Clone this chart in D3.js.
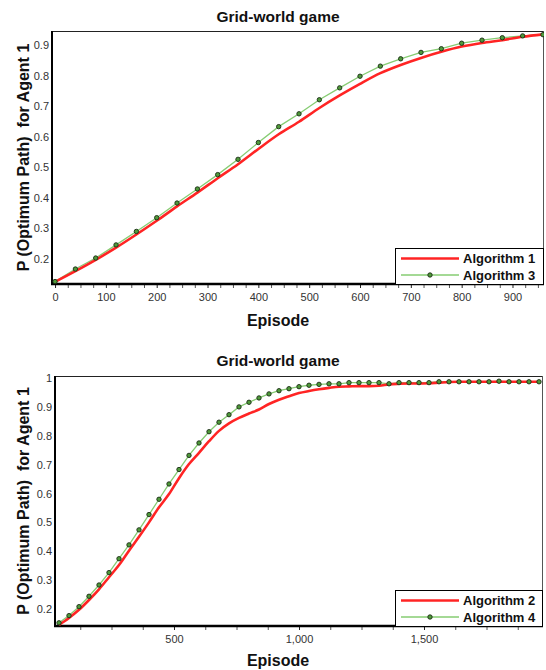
<!DOCTYPE html>
<html>
<head>
<meta charset="utf-8">
<script src="https://cdn.jsdelivr.net/npm/d3@7"></script>
<style>
  html, body { margin: 0; padding: 0; background: #fff; }
  text { font-family: "Liberation Sans", Arial, sans-serif; }
</style>
</head>
<body>
<svg id="chart" width="546" height="670"></svg>
<script>
// ---------- DATA ----------
const titleText = "Grid-world game";
const xLabel = "Episode";
const yLabel = "P (Optimum Path)  for Agent 1";

// Top chart
const topEpisodes = [0,40,80,120,160,200,240,280,320,360,400,440,480,520,560,600,640,680,720,760,800,840,880,920,960];
const algo1 = [0.125,0.160,0.197,0.237,0.280,0.325,0.372,0.417,0.464,0.510,0.560,0.608,0.649,0.694,0.735,0.773,0.808,0.835,0.858,0.878,0.895,0.907,0.916,0.927,0.935];
const algo3 = [0.126,0.167,0.203,0.246,0.290,0.335,0.383,0.429,0.476,0.526,0.581,0.633,0.675,0.721,0.760,0.798,0.831,0.855,0.876,0.888,0.906,0.916,0.924,0.930,0.934];
const topXTicks = [0,100,200,300,400,500,600,700,800,900];
const topXMinor = [25,50,75,125,150,175,225,250,275,325,350,375,425,450,475,525,550,575,625,650,675,725,750,775,825,850,875,925,950];
const topYTicks = [0.2,0.3,0.4,0.5,0.6,0.7,0.8,0.9];
const topSeriesNames = ["Algorithm 1","Algorithm 3"];

// Bottom chart
const botEpisodes = [40,80,120,160,200,240,280,320,360,400,440,480,520,560,600,640,680,720,760,800,840,880,920,960,1000,1040,1080,1120,1160,1200,1240,1280,1320,1360,1400,1440,1480,1520,1560,1600,1640,1680,1720,1760,1800,1840,1880,1920,1960];
const algo2 = [0.145,0.169,0.197,0.231,0.268,0.310,0.352,0.402,0.450,0.500,0.552,0.598,0.653,0.702,0.741,0.781,0.817,0.843,0.862,0.877,0.891,0.910,0.925,0.937,0.948,0.955,0.961,0.966,0.970,0.971,0.972,0.972,0.973,0.978,0.980,0.981,0.981,0.982,0.984,0.986,0.987,0.987,0.987,0.987,0.987,0.987,0.987,0.987,0.987];
const algo4 = [0.152,0.177,0.208,0.244,0.283,0.326,0.374,0.422,0.474,0.527,0.580,0.633,0.683,0.732,0.775,0.814,0.847,0.873,0.900,0.916,0.931,0.945,0.956,0.963,0.970,0.975,0.978,0.980,0.980,0.984,0.984,0.984,0.984,0.980,0.984,0.984,0.984,0.984,0.987,0.987,0.987,0.987,0.987,0.987,0.989,0.987,0.987,0.987,0.987];
const botXTicks = [500,1000,1500];
const botXMinor = [125,250,375,625,750,875,1125,1250,1375,1625,1750,1875];
const botYTicks = [0.2,0.3,0.4,0.5,0.6,0.7,0.8,0.9,1];
const botSeriesNames = ["Algorithm 2","Algorithm 4"];

// ---------- STYLE ----------
const RED = "#ff2424";
const GREEN_LINE = "#86cc72";
const GREEN_DOT = "#4f9a3a";

const svg = d3.select("#chart");

function drawChart(cfg) {
  const g = svg.append("g");
  const x = d3.scaleLinear().domain(cfg.xDomain).range([cfg.left, cfg.right]);
  const y = d3.scaleLinear().domain(cfg.yDomain).range([cfg.bottom, cfg.top]);

  // title
  g.append("text").attr("x", 278).attr("y", cfg.titleY)
    .attr("text-anchor", "middle").attr("font-size", 15.5).attr("font-weight", "bold")
    .attr("fill", "#111").text(titleText);

  // clip
  const clipId = "clip" + cfg.id;
  svg.append("clipPath").attr("id", clipId).append("rect")
    .attr("x", cfg.left).attr("y", cfg.top)
    .attr("width", cfg.right - cfg.left).attr("height", cfg.bottom - cfg.top);

  // frame (top/right)
  g.append("line").attr("x1", cfg.left).attr("x2", cfg.right).attr("y1", cfg.top + 0.5).attr("y2", cfg.top + 0.5)
    .attr("stroke", "#222").attr("stroke-width", 1);
  g.append("line").attr("x1", cfg.right - 0.5).attr("x2", cfg.right - 0.5).attr("y1", cfg.top).attr("y2", cfg.bottom)
    .attr("stroke", "#555").attr("stroke-width", 1);

  // x axis
  const xAxis = d3.axisBottom(x).tickValues(cfg.xTicks).tickSize(4).tickFormat(cfg.xFormat);
  const xa = g.append("g").attr("transform", `translate(0,${cfg.bottom})`).call(xAxis);
  xa.select(".domain").remove();
  xa.selectAll("text").attr("font-size", 11).attr("fill", "#333").attr("dy", "0.95em")
    .attr("font-family", "'Liberation Sans', Arial, sans-serif");
  xa.selectAll("line").attr("stroke", "#222");
  const xMinorAxis = d3.axisBottom(x).tickValues(cfg.xMinor).tickSize(4).tickFormat("");
  const xm = g.append("g").attr("transform", `translate(0,${cfg.bottom})`).call(xMinorAxis);
  xm.select(".domain").remove();
  xm.selectAll("line").attr("stroke", "#555");

  // y axis
  const yAxis = d3.axisLeft(y).tickValues(cfg.yTicks).tickSize(0).tickPadding(3).tickFormat(d => d3.format("")(d));
  const ya = g.append("g").attr("transform", `translate(${cfg.left},0)`).call(yAxis);
  ya.select(".domain").remove();
  ya.selectAll("text").attr("font-size", 11).attr("fill", "#333")
    .attr("font-family", "'Liberation Sans', Arial, sans-serif");

  // axis lines (thick)
  g.append("line").attr("x1", cfg.left).attr("x2", cfg.left).attr("y1", cfg.top).attr("y2", cfg.bottom + 1)
    .attr("stroke", "#000").attr("stroke-width", 2);
  g.append("line").attr("x1", cfg.left - 1).attr("x2", cfg.right).attr("y1", cfg.bottom).attr("y2", cfg.bottom)
    .attr("stroke", "#000").attr("stroke-width", 2.5);

  // axis titles
  g.append("text").attr("x", 278).attr("y", cfg.xLabelY)
    .attr("text-anchor", "middle").attr("font-size", 16).attr("font-weight", "bold")
    .attr("fill", "#111").text(xLabel);
  g.append("text")
    .attr("transform", `translate(29,${(cfg.top + cfg.bottom) / 2}) rotate(-90)`)
    .attr("text-anchor", "middle").attr("font-size", 16).attr("font-weight", "bold")
    .attr("fill", "#111").style("white-space", "pre").text(yLabel);

  const plot = g.append("g").attr("clip-path", `url(#${clipId})`);
  const redData = cfg.episodes.map((e, i) => [e, cfg.red[i]]);
  const greenData = cfg.episodes.map((e, i) => [e, cfg.green[i]]);

  plot.append("path").datum(greenData)
    .attr("fill", "none").attr("stroke", GREEN_LINE).attr("stroke-width", 1.3)
    .attr("d", d3.line().x(d => x(d[0])).y(d => y(d[1])));
  plot.append("path").datum(redData)
    .attr("fill", "none").attr("stroke", RED).attr("stroke-width", 2.6)
    .attr("d", d3.line().curve(d3.curveMonotoneX).x(d => x(d[0])).y(d => y(d[1])));
  plot.selectAll("circle.pt").data(greenData).join("circle").attr("class", "pt")
    .attr("cx", d => x(d[0])).attr("cy", d => y(d[1])).attr("r", 2.2)
    .attr("fill", GREEN_DOT).attr("stroke", "#1a2a14").attr("stroke-width", 0.9);

  // legend
  const lx = cfg.legend.x, ly = cfg.legend.y, lw = cfg.right - lx, lh = cfg.bottom - ly;
  const lg = g.append("g");
  lg.append("rect").attr("x", lx + 0.5).attr("y", ly + 0.5).attr("width", lw - 1).attr("height", lh)
    .attr("fill", "#fff").attr("stroke", "#000").attr("stroke-width", 1);
  const rows = [
    { name: cfg.names[0], color: RED, w: 2.6, dot: false, yy: ly + 10.5 },
    { name: cfg.names[1], color: GREEN_LINE, w: 1.3, dot: true, yy: ly + 27 }
  ];
  rows.forEach(r => {
    lg.append("line").attr("x1", lx + 6).attr("x2", lx + 64).attr("y1", r.yy).attr("y2", r.yy)
      .attr("stroke", r.color).attr("stroke-width", r.w);
    if (r.dot) lg.append("circle").attr("cx", lx + 35).attr("cy", r.yy).attr("r", 2.2)
      .attr("fill", GREEN_DOT).attr("stroke", "#1a2a14").attr("stroke-width", 0.9);
    lg.append("text").attr("x", lx + 68).attr("y", r.yy + 4.5)
      .attr("font-size", 13).attr("font-weight", "bold").attr("fill", "#111").text(r.name);
  });
}

drawChart({
  id: "top", left: 52, right: 544, top: 31, bottom: 284,
  xDomain: [-6, 962], yDomain: [0.118, 0.946],
  xTicks: topXTicks, xMinor: topXMinor, yTicks: topYTicks, xFormat: d3.format("d"),
  episodes: topEpisodes, red: algo1, green: algo3, names: topSeriesNames,
  titleY: 22, xLabelY: 326, legend: { x: 395, y: 248 }
});

drawChart({
  id: "bot", left: 55, right: 543, top: 376, bottom: 626,
  xDomain: [24, 1976], yDomain: [0.141, 1.007],
  xTicks: botXTicks, xMinor: botXMinor, yTicks: botYTicks, xFormat: d3.format(","),
  episodes: botEpisodes, red: algo2, green: algo4, names: botSeriesNames,
  titleY: 366, xLabelY: 666, legend: { x: 395, y: 590 }
});
</script>
</body>
</html>
